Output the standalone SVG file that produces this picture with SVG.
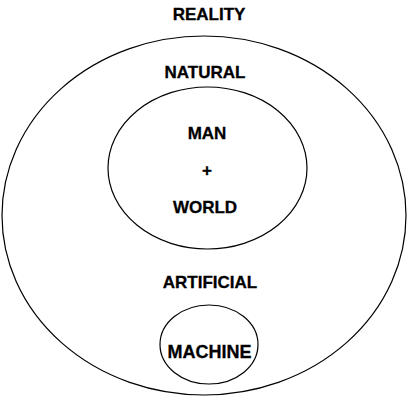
<svg xmlns="http://www.w3.org/2000/svg" width="409" height="398" viewBox="0 0 409 398">
<style>
.shape{fill:none;stroke:#000;stroke-width:1.2}
.lbl{font-family:"Liberation Sans",Arial,sans-serif;font-weight:bold;font-size:17px;fill:#000;stroke:#000;stroke-width:0.3;text-anchor:middle}
</style>
<rect width="409" height="398" fill="#fff"/>
<g id="reality">
<ellipse class="shape" cx="204" cy="215.5" rx="202" ry="179.5"/>
<text class="lbl" x="209" y="20">REALITY</text>
</g>
<g id="natural">
<text class="lbl" x="205" y="78">NATURAL</text>
</g>
<g id="man-world">
<ellipse class="shape" cx="207.5" cy="168" rx="99.5" ry="81"/>
<text class="lbl" x="207" y="139">MAN</text>
<text class="lbl" x="207" y="176">+</text>
<text class="lbl" x="205" y="213">WORLD</text>
</g>
<g id="artificial">
<text class="lbl" x="210" y="288">ARTIFICIAL</text>
</g>
<g id="machine">
<ellipse class="shape" cx="209" cy="344.5" rx="49" ry="39.5"/>
<text class="lbl" x="209.5" y="358" style="font-size:18px">MACHINE</text>
</g>
<g id="connectors"/>
</svg>
